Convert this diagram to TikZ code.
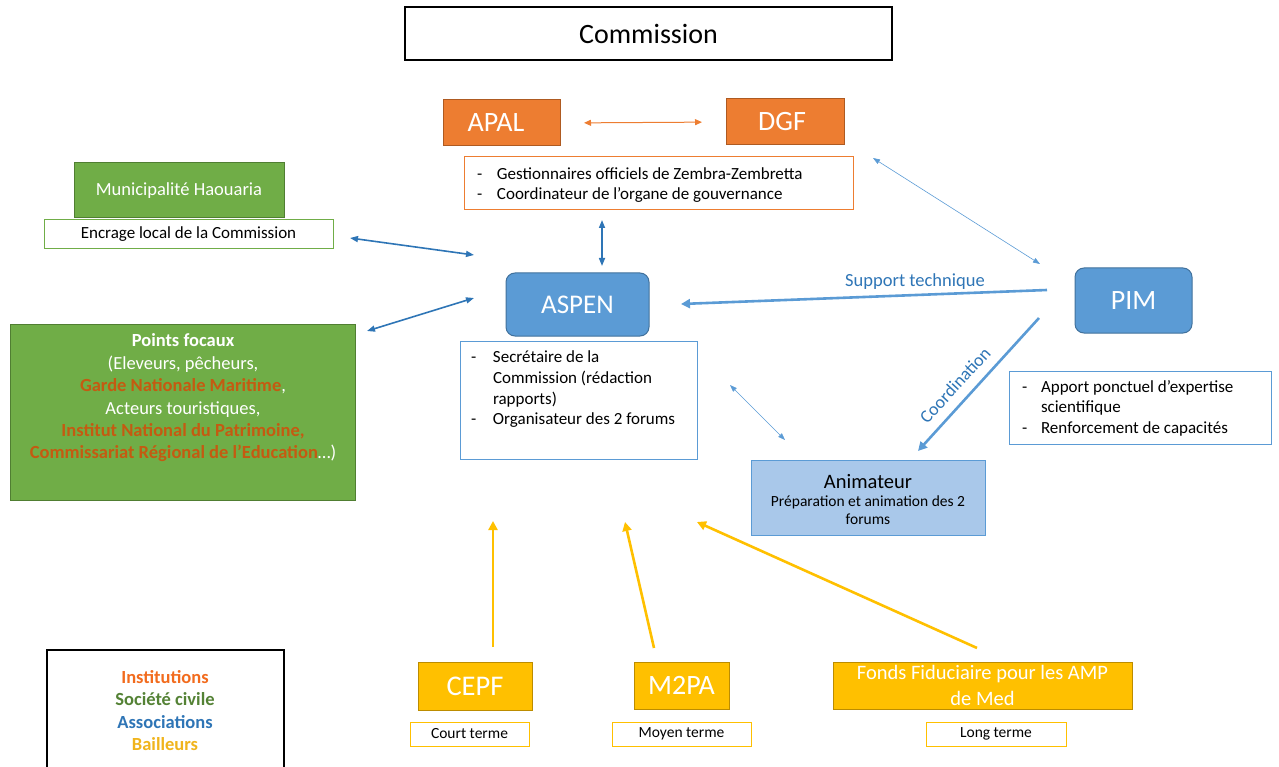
\documentclass[tikz,border=0pt]{standalone}
\usepackage{fontspec}
\setmainfont{Carlito}
\usetikzlibrary{arrows.meta,calc}
\definecolor{orgF}{HTML}{ED7D31}
\definecolor{orgB}{HTML}{AE5A21}
\definecolor{grnF}{HTML}{70AD47}
\definecolor{grnB}{HTML}{507E32}
\definecolor{bluF}{HTML}{5B9BD5}
\definecolor{bluB}{HTML}{41719C}
\definecolor{bluD}{HTML}{2E75B6}
\definecolor{yelF}{HTML}{FFC000}
\definecolor{yelB}{HTML}{BC8C00}
\definecolor{redT}{HTML}{C55A11}
\definecolor{legO}{HTML}{F26B1D}
\definecolor{legG}{HTML}{548235}
\definecolor{legY}{HTML}{F0B41C}
\definecolor{animF}{HTML}{A9C8EA}
\newcommand\fsz[2]{\fontsize{#1}{#2}\selectfont}
\newcommand\dsh[1]{\makebox[#1][l]{-}}
\begin{document}
\begin{tikzpicture}[x=1pt,y=-1pt,
  every node/.style={inner sep=0pt, outer sep=0pt},
  solidbox/.style={draw=#1B, fill=#1F, line width=1pt, text=white},
  listbox/.style={draw=#1, fill=white, line width=1pt},
  dblthin/.style={bluF, line width=0.6pt, {Triangle[length=7pt,width=5pt]}-{Triangle[length=7pt,width=5pt]}},
  dbldark/.style={bluD, line width=1.6pt, {Triangle[length=8pt,width=6pt]}-{Triangle[length=8pt,width=6pt]}},
  oneblue/.style={bluF, line width=2.6pt, -{Triangle[length=9pt,width=9pt]}},
  oneyel/.style={yelF, line width=2.6pt, -{Triangle[length=9pt,width=9pt]}},
]
\useasboundingbox (0,0) rectangle (1279,767);

% Commission
\node[draw=black, line width=1.3pt, fill=white, minimum width=487, minimum height=53] (commission) at (648.5,33.5) {\fsz{28}{34}Commission};

% APAL / DGF
\node[solidbox=org, minimum width=117, minimum height=46] (apal) at (501.5,123) {};
\node[text=white, font=\fsz{28}{32}] (apaltxt) at (496,123) {APAL};
\node[solidbox=org, minimum width=118, minimum height=46] (dgf) at (785,122) {};
\node[text=white, font=\fsz{28}{32}] (dgftxt) at (782,122) {DGF};
\draw[orgF, line width=1pt, {Triangle[length=7pt,width=6pt]}-{Triangle[length=7pt,width=6pt]}, shorten <=24pt, shorten >=24pt] (apal.east) -- (dgf.west);

\node[listbox=orgF, minimum width=389, minimum height=53] (olist) at (658.5,183.5) {};
\node[anchor=west, align=left, font=\fsz{17}{20.5}] (olisttxt) at (477,185)
 {\dsh{20pt}Gestionnaires officiels de Zembra-Zembretta\\\dsh{20pt}Coordinateur de l’organe de gouvernance};

% Municipalité
\node[solidbox=grn, minimum width=210, minimum height=55] (muni) at (179,190.5) {\fsz{18.5}{22}Municipalité Haouaria};
\node[listbox=grnF, minimum width=289, minimum height=29] (encrage) at (188.5,234.5) {\fsz{17}{20}Encrage local de la Commission};

% Points focaux
\node[solidbox=grn, minimum width=345, minimum height=176] (pf) at (182.5,412) {};
\node[align=center, text=white, font=\fsz{18.5}{22.4}] (pftxt) at (183,398)
 {\textbf{Points focaux}\\(Eleveurs, pêcheurs,\\\textcolor{redT}{\textbf{Garde Nationale Maritime}},\\Acteurs touristiques,\\\textcolor{redT}{\textbf{Institut National du Patrimoine,}}\\\textcolor{redT}{\textbf{Commissariat Régional de l’Education}}…)};

% ASPEN
\node[solidbox=blu, rounded corners=9pt, minimum width=143, minimum height=63] (aspen) at (577.5,304.5) {\fsz{27}{32}ASPEN};
\node[listbox=bluF, minimum width=237, minimum height=118] (alist) at (578.5,400) {};
\node[anchor=north west, align=left, font=\fsz{17}{20.6}] (alisttxt) at (471,351)
 {\dsh{22pt}Secrétaire de la\\\hspace*{22pt}Commission (rédaction\\\hspace*{22pt}rapports)\\\dsh{22pt}Organisateur des 2 forums};

% PIM
\node[solidbox=blu, rounded corners=9pt, minimum width=117, minimum height=65] (pim) at (1133.5,300.5) {\fsz{28}{32}PIM};
\node[listbox=bluF, minimum width=262, minimum height=73] (plist) at (1140,407.5) {};
\node[anchor=west, align=left, font=\fsz{17}{20.6}] (plisttxt) at (1022,408)
 {\dsh{19pt}Apport ponctuel d’expertise\\\hspace*{19pt}scientifique\\\dsh{19pt}Renforcement de capacités};

% Animateur
\node[draw=bluF, fill=animF, line width=1pt, minimum width=234, minimum height=75] (anim) at (868,497.5) {};
\node[align=center, font=\fsz{15.5}{18}] (animtxt) at (868,500)
 {{\fsz{20.5}{24}Animateur}\\Préparation et animation des 2\\forums};

% Bailleurs
\node[solidbox=yel, minimum width=114, minimum height=48] (cepf) at (475,686) {\fsz{28.5}{32}CEPF};
\node[listbox=yelF, minimum width=119, minimum height=24] (court) at (469.5,734) {\fsz{15.5}{17}Court terme};
\node[solidbox=yel, minimum width=95, minimum height=47] (m2pa) at (681.5,685.5) {\fsz{28}{32}M2PA};
\node[listbox=yelF, minimum width=139, minimum height=24] (moyen) at (681.5,734) {\fsz{15.5}{17}Moyen terme};
\node[solidbox=yel, minimum width=299, minimum height=47, align=center, font=\fsz{20.5}{26}] (fonds) at (982.5,685.5) {Fonds Fiduciaire pour les AMP\\de Med};
\node[listbox=yelF, minimum width=140, minimum height=24] (long) at (996,734) {\fsz{15.5}{17}Long terme};

% Legend
\node[draw=black, line width=1.2pt, fill=white, minimum width=237, minimum height=150] (legend) at (165.5,725) {};
\node[align=center, font=\fsz{18.5}{22.3}\bfseries] (legtxt) at (165,710.5)
 {\textcolor{legO}{Institutions}\\\textcolor{legG}{Société civile}\\\textcolor{bluD}{Associations}\\\textcolor{legY}{Bailleurs}};

% coordinates for free connector ends
\coordinate (e1) at (350,238);
\coordinate (e2) at (474,255);
\coordinate (f1) at (367,331);
\coordinate (f2) at (474,298);
\coordinate (v1) at (602,220);
\coordinate (v2) at (602,266);
\coordinate (d1) at (873,158);
\coordinate (d2) at (1040,264);
\coordinate (s1) at (1047,290);
\coordinate (s2) at (681,304);
\coordinate (c1) at (1039,318);
\coordinate (c2) at (918,451);
\coordinate (a1) at (730,385);
\coordinate (a2) at (785,440);
\coordinate (y1) at (493,647);
\coordinate (y2) at (493,521);
\coordinate (m1) at (654,648);
\coordinate (m2) at (625,522);
\coordinate (g1) at (977,648);
\coordinate (g2) at (697,522);

\draw[dbldark] (e1) -- (e2);
\draw[dbldark] (f1) -- (f2);
\draw[dbldark] (v1) -- (v2);
\draw[dblthin] (d1) -- (d2);
\draw[dblthin] (a1) -- (a2);
\draw[oneblue] (s1) -- (s2);
\draw[oneblue] (c1) -- (c2);
\draw[oneyel] (y1) -- (y2);
\draw[oneyel] (m1) -- (m2);
\draw[oneyel] (g1) -- (g2);

\node[text=bluD, font=\fsz{18.5}{22}] (suplbl) at (915,282) {Support technique};
\node[text=bluD, font=\fsz{18}{22}, rotate=47.5] (coolbl) at (955,385) {Coordination};
\end{tikzpicture}
\end{document}
